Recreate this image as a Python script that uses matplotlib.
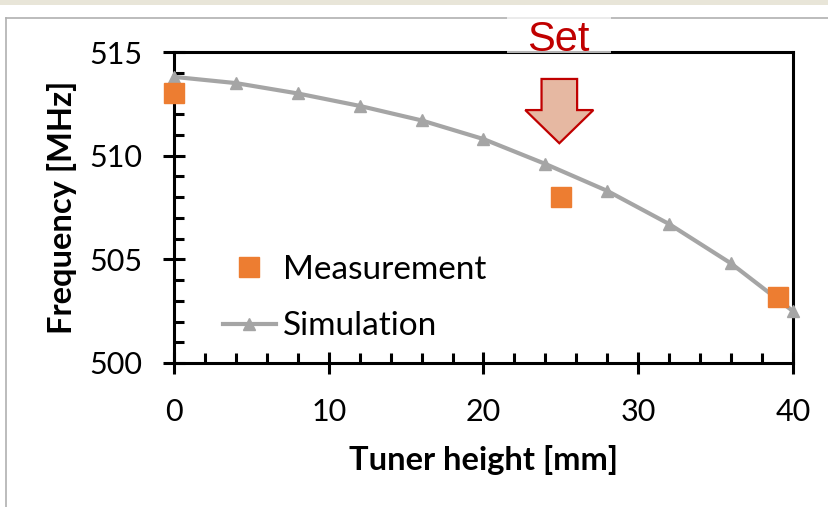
import numpy as np
import matplotlib
matplotlib.use("Agg")
from matplotlib import pyplot as plt
from matplotlib.patches import Rectangle, FancyArrow
from matplotlib.lines import Line2D
from matplotlib.ticker import MultipleLocator

# simulated curve, every 4 mm
sim_height = [0, 4, 8, 12, 16, 20, 24, 28, 32, 36, 40]
sim_freq = [513.8, 513.5, 513.0, 512.4, 511.7, 510.8, 509.6, 508.3, 506.7, 504.8, 502.5]
# measured points
meas_height = [0, 25, 39]
meas_freq = [513.0, 508.0, 503.2]

ORANGE = "#ED7D31"
GREY = "#A5A5A5"
DARKRED = "#C00000"

plt.rcParams["font.family"] = ["Lato", "DejaVu Sans"]

fig = plt.figure(figsize=(8.29, 5.07), dpi=100)
W, H = 829, 507

# beige strip + grey frame round the slide picture
fig.patches.append(Rectangle((0, 1 - 5 / H), 1, 5 / H, transform=fig.transFigure,
                             facecolor="#E8E5D8", edgecolor="none"))
fig.lines.append(Line2D([6 / W, 6 / W], [0, 1 - 18 / H], transform=fig.transFigure,
                        color="#B0B0B0", lw=1.2))
fig.lines.append(Line2D([6 / W, 1], [1 - 18 / H, 1 - 18 / H], transform=fig.transFigure,
                        color="#B0B0B0", lw=1.2))

ax = fig.add_axes([174 / W, 1 - 363 / H, (793 - 174) / W, (363 - 52) / H])

ax.plot(sim_height, sim_freq, color=GREY, lw=3, marker="^", markersize=9,
        label="Simulation", zorder=3, clip_on=False)
ax.plot(meas_height, meas_freq, ls="none", marker="s", markersize=15,
        color=ORANGE, label="Measurement", zorder=4, clip_on=False)

ax.set_xlim(0, 40)
ax.set_ylim(500, 515)
ax.xaxis.set_major_locator(MultipleLocator(10))
ax.xaxis.set_minor_locator(MultipleLocator(2))
ax.yaxis.set_major_locator(MultipleLocator(5))
ax.yaxis.set_minor_locator(MultipleLocator(1))

ax.tick_params(which="major", direction="inout", length=16, width=2.2,
               labelsize=22, pad=2)
ax.tick_params(axis="x", which="major", pad=17)
ax.tick_params(axis="y", which="major", pad=15)
ax.tick_params(which="minor", direction="in", length=7, width=2.2)
for s in ax.spines.values():
    s.set_linewidth(2.2)

# axis titles centred on fixed spots
ax.set_xlabel("Tuner height [mm]", fontsize=23.5, fontweight="bold", va="center")
ax.set_ylabel("Frequency [MHz]", fontsize=23.5, fontweight="bold",
              ha="center", va="center", rotation_mode="default")
ax.xaxis.set_label_coords(484 / W, 1 - 460 / H, transform=fig.transFigure)
ax.yaxis.set_label_coords(62 / W, 1 - 207 / H, transform=fig.transFigure)

h, l = ax.get_legend_handles_labels()
ax.legend(h[::-1], l[::-1], loc="upper left", bbox_to_anchor=(206 / W, 1 - 238 / H),
          bbox_transform=fig.transFigure, frameon=False, fontsize=24,
          handlelength=1.6, handletextpad=0.2, labelspacing=0.8, borderpad=0)

# "Set" marker
fig.patches.append(Rectangle((507 / W, 1 - 53 / H), 104 / W, 36 / H,
                             transform=fig.transFigure, facecolor="white",
                             edgecolor="none", alpha=0.7, zorder=5))
fig.text(558 / W, 1 - 40 / H, "Set", color=DARKRED, fontsize=30,
         family="Liberation Sans", ha="center", va="center", zorder=6)
ax.add_patch(FancyArrow(24.9, 513.7, 0, -3.1, width=2.3, head_width=4.4,
                        head_length=1.6, length_includes_head=True,
                        facecolor="#E6B8A2", edgecolor=DARKRED, lw=1.6,
                        clip_on=False, zorder=5))

fig.savefig("out.png", dpi=100)
